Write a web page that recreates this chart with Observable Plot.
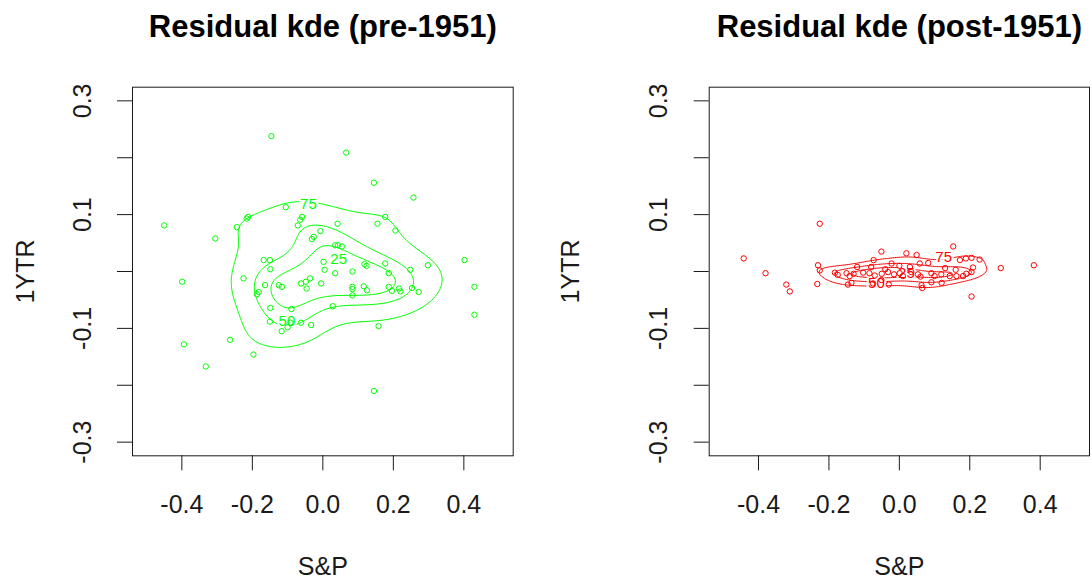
<!DOCTYPE html>
<html><head><meta charset="utf-8">
<script src="https://cdn.jsdelivr.net/npm/d3@7"></script>
<script src="https://cdn.jsdelivr.net/npm/@observablehq/plot@0.6"></script>
<style>
body{margin:0;background:#fff;}
#wrap{position:relative;width:1092px;height:585px;overflow:hidden;background:#fff;}
#wrap svg{position:absolute;top:0;}
</style></head><body><div id="wrap"></div>
<script>
// ---- data ----
const preX = [-0.146,0.066,0.145,0.257,-0.450,-0.105,-0.216,-0.212,-0.059,-0.064,-0.071,-0.244,0.042,0.155,0.177,0.206,-0.305,-0.007,-0.031,-0.026,0.035,0.043,0.054,-0.168,-0.150,-0.149,0.002,0.005,0.035,0.084,0.118,0.124,0.177,0.187,0.248,0.298,0.402,-0.225,-0.399,-0.164,-0.182,-0.187,-0.125,-0.116,-0.062,-0.048,-0.036,-0.046,-0.005,0.084,0.084,0.084,0.116,0.125,0.187,0.196,0.216,0.220,0.253,0.272,0.430,0.430,-0.149,0.028,-0.089,-0.150,-0.092,-0.100,-0.117,-0.062,-0.033,0.158,-0.394,-0.263,-0.197,-0.332,0.145];
const preY = [0.238,0.209,0.156,0.130,0.081,0.113,0.093,0.096,0.096,0.091,0.081,0.078,0.084,0.084,0.096,0.072,0.058,0.071,0.057,0.061,0.046,0.046,0.044,0.020,0.020,0.004,0.017,0.003,-0.003,0.000,0.013,0.010,0.014,-0.003,0.003,0.011,0.020,-0.012,-0.018,-0.024,-0.036,-0.040,-0.024,-0.027,-0.021,-0.018,-0.012,-0.030,-0.021,-0.027,-0.031,-0.042,-0.026,-0.033,-0.027,-0.034,-0.030,-0.035,-0.029,-0.036,-0.027,-0.076,-0.064,-0.061,-0.066,-0.088,-0.090,-0.098,-0.105,-0.090,-0.094,-0.096,-0.128,-0.120,-0.146,-0.167,-0.210];

const postX = [-0.226,-0.442,-0.380,-0.321,-0.311,0.382,0.288,0.205,0.153,-0.051,0.020,0.049,-0.073,0.172,0.189,0.205,0.228,-0.022,0.058,0.082,0.209,-0.231,-0.226,-0.233,-0.183,-0.175,-0.150,-0.141,-0.136,-0.130,-0.103,-0.085,-0.070,-0.050,-0.032,-0.015,0.001,0.010,0.034,0.053,0.060,0.091,0.100,0.119,0.143,0.162,0.181,0.190,0.205,-0.146,-0.075,-0.051,-0.030,0.063,0.091,0.065,0.120,-0.120,-0.080,0.000,0.030,0.130,-0.040,0.160];
const postY = [0.084,0.023,-0.003,-0.023,-0.035,0.011,0.006,-0.044,0.044,0.035,0.032,0.029,0.020,0.020,0.023,0.024,0.021,0.014,0.014,0.015,0.007,0.011,0.002,-0.022,-0.002,-0.006,-0.003,-0.008,-0.020,-0.004,-0.002,-0.003,-0.007,-0.004,-0.001,-0.005,-0.003,-0.008,-0.001,-0.005,-0.009,-0.003,-0.008,-0.005,-0.008,-0.008,-0.008,-0.004,-0.001,-0.023,-0.021,-0.015,-0.023,-0.024,-0.019,-0.029,-0.020,0.008,0.008,0.010,0.008,0.006,0.004,0.003];

const xTicks = [-0.4,-0.2,0.0,0.2,0.4];
const yTicks = [-0.3,-0.2,-0.1,0.0,0.1,0.2,0.3];
const yLabelTicks = [-0.3,-0.1,0.1,0.3];
const contourPercents = [75,50,25];
const titles = ["Residual kde (pre-1951)","Residual kde (post-1951)"];
const xLabel = "S&P";
const yLabel = "1YTR";
// contour label anchors (data units)
const preLabX = [-0.041,-0.102,0.045];
const preLabY = [0.119,-0.087,0.022];
const postLabX = [0.126,-0.065,0.020];
const postLabY = [0.026,-0.020,-0.003];

const xDomain = [-0.54,0.54];
const yDomain = [-0.324,0.324];

function kde(xs, ys, hx, hy) {
  const n = xs.length, c = 1/(2*Math.PI*hx*hy*n);
  return (x, y) => {
    let s = 0;
    for (let i = 0; i < n; i++) {
      const u = (x - xs[i]) / hx, v = (y - ys[i]) / hy;
      s += Math.exp(-0.5*(u*u + v*v));
    }
    return s * c;
  };
}

function panel({xs, ys, color, title, hx, hy, labX, labY, left, mL, mR}) {
  const data = xs.map((x, i) => ({x, y: ys[i]}));
  const f = kde(xs, ys, hx, hy);
  const fi = xs.map((x, i) => f(x, ys[i]));
  const levels = contourPercents.map(p => d3.quantile(fi, 1 - p/100));
  const labs = contourPercents.map((p, i) => ({x: labX[i], y: labY[i], t: String(p)}));
  const fmt = d => d.toFixed(1);
  const svg = Plot.plot({
    width: 546, height: 585,
    marginLeft: mL, marginRight: mR, marginTop: 86.7, marginBottom: 129.7,
    x: {domain: xDomain}, y: {domain: yDomain},
    style: {fontFamily: "'Liberation Sans', Arial, sans-serif", color: "#1a1a1a", background: "transparent"},
    marks: [
      Plot.contour({value: f, x1: xDomain[0], x2: xDomain[1], y1: yDomain[0], y2: yDomain[1],
        thresholds: levels, stroke: color, fill: "none", strokeWidth: 1}),
      Plot.text(labs, {x: "x", y: "y", text: "t", fill: color, stroke: "white", strokeWidth: 4, paintOrder: "stroke", fontSize: 15}),
      Plot.dot(data, {x: "x", y: "y", r: 2.7, stroke: color, strokeWidth: 1, fill: "none"}),
      Plot.frame({stroke: "#1a1a1a", strokeWidth: 1}),
      Plot.axisX({ticks: xTicks, tickSize: 15, tickPadding: 24, tickFormat: fmt, fontSize: 25, label: null}),
      Plot.axisY({ticks: yTicks, tickSize: 15, tickFormat: () => "", label: null}),
      Plot.axisY({ticks: yLabelTicks, tickSize: 0, tickPadding: 42, tickRotate: -90, tickFormat: fmt, fontSize: 25, label: null}),
      Plot.text([title], {frameAnchor: "top", dy: -59.7, lineAnchor: "middle", fontSize: 31, fontWeight: "bold", fill: "#000"}),
      Plot.text([xLabel], {frameAnchor: "bottom", dy: 111, lineAnchor: "middle", fontSize: 25}),
      Plot.text([yLabel], {frameAnchor: "left", dx: -(mL - 25), rotate: -90, textAnchor: "middle", lineAnchor: "middle", fontSize: 25})
    ]
  });
  svg.style.left = left + "px";
  document.getElementById("wrap").appendChild(svg);
}

panel({xs: preX, ys: preY, color: "#00ff00", title: titles[0], hx: 0.075, hy: 0.038,
  labX: preLabX, labY: preLabY, left: 0, mL: 132, mR: 33.3});
panel({xs: postX, ys: postY, color: "#ff0000", title: titles[1], hx: 0.052, hy: 0.0095,
  labX: postLabX, labY: postLabY, left: 546, mL: 162.7, mR: 3});
</script></body></html>
